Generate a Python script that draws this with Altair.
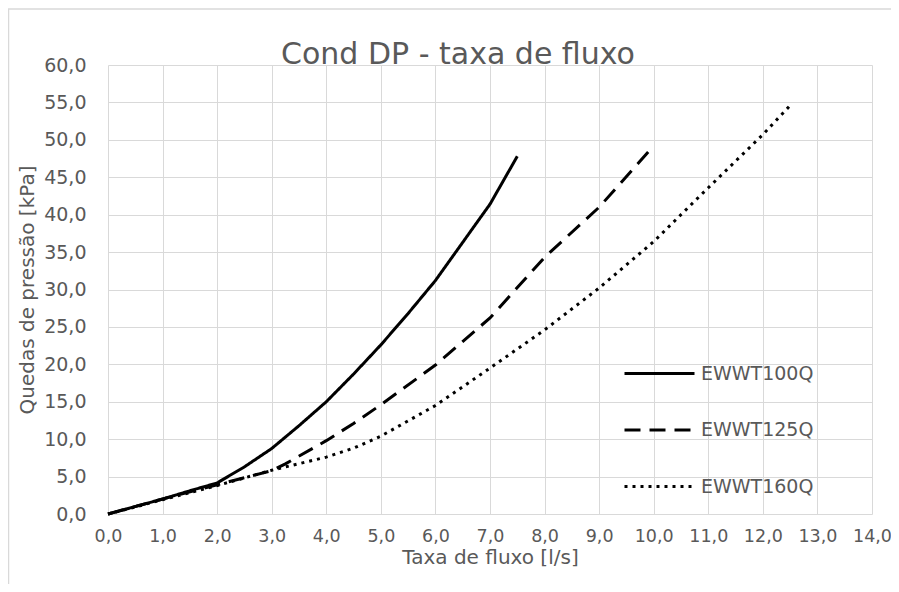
import altair as alt
import pandas as pd

names = ["EWWT100Q", "EWWT125Q", "EWWT160Q"]

x100 = [0, 0.5, 1, 1.5, 2, 2.5, 3, 3.5, 4, 4.5, 5, 5.5, 6, 6.5, 7, 7.5]
y100 = [0, 1.0, 2.0, 3.1, 4.15, 6.3, 8.75, 11.8, 15.0, 18.7, 22.6, 26.8, 31.2, 36.3, 41.4, 47.8]

x125 = [0, 1, 2, 3, 3.25, 4, 4.5, 5, 6, 7, 8, 9, 10]
y125 = [0, 2.0, 3.9, 5.8, 6.7, 9.8, 12.1, 14.6, 19.9, 26.2, 34.3, 41.0, 49.2]

x160 = [0, 1, 2, 3, 4, 4.5, 5, 6, 7, 8, 9, 10, 11, 12, 12.5]
y160 = [0, 1.9, 3.8, 5.85, 7.6, 8.8, 10.4, 14.5, 19.5, 24.6, 30.2, 36.4, 43.6, 50.7, 54.6]

x_ticks = list(range(0, 15))
y_ticks = list(range(0, 61, 5))

rows = []
for name, xs, ys in [(names[0], x100, y100), (names[1], x125, y125), (names[2], x160, y160)]:
    for a, b in zip(xs, ys):
        rows.append({"x": a, "y": b, "serie": name})
df = pd.DataFrame(rows)

FONT = "DejaVu Sans"
GRAY = "#595959"
GRID = "#d9d9d9"
label_expr = "replace(format(datum.value, '.1f'), '.', ',')"

lines = alt.Chart(df).mark_line(strokeWidth=3, color="black", strokeCap="butt").encode(
    x=alt.X("x:Q",
            scale=alt.Scale(domain=[0, 14], nice=False),
            axis=alt.Axis(values=x_ticks, labelExpr=label_expr, title="Taxa de fluxo [l/s]",
                          ticks=False, domain=False, labelPadding=13, titlePadding=3,
                          labelOverlap=False, labelFlush=False, labelFontSize=17.5)),
    y=alt.Y("y:Q",
            scale=alt.Scale(domain=[0, 60], nice=False),
            axis=alt.Axis(values=y_ticks, labelExpr=label_expr, title="Quedas de pressão [kPa]",
                          ticks=False, domain=False, labelPadding=22, titlePadding=6,
                          labelOverlap=False, labelFlush=False)),
    strokeDash=alt.StrokeDash("serie:N",
                              scale=alt.Scale(domain=names, range=[[1, 0], [16, 9], [3, 5]]),
                              legend=alt.Legend(title=None, orient="none", legendX=515, legendY=272,
                                                symbolType="stroke", symbolSize=4900,
                                                symbolStrokeWidth=3, symbolStrokeColor="black",
                                                labelFontSize=19, labelColor=GRAY, labelFont=FONT,
                                                rowPadding=9.5, labelOffset=5, padding=0)),
)

border = alt.Chart(pd.DataFrame({"a": [0]})).mark_rect(
    fillOpacity=0, stroke=GRID, strokeWidth=1.5
).encode(x=alt.value(-99.5), x2=alt.value(900), y=alt.value(-56), y2=alt.value(600))

chart = alt.layer(border, lines).properties(
    width=764,
    height=449,
    title=alt.TitleParams("Cond DP - taxa de fluxo", fontSize=30, font=FONT, fontWeight="normal",
                          color=GRAY, dx=-32, dy=86, offset=0, baseline="alphabetic", frame="group"),
    autosize=alt.AutoSizeParams(type="none"),
    padding={"left": 100, "top": 57, "right": 19, "bottom": 70},
).configure_axis(
    gridColor=GRID, gridWidth=1, labelFont=FONT, labelFontSize=19, labelColor=GRAY,
    titleFont=FONT, titleFontSize=20, titleColor=GRAY, titleFontWeight="normal",
).configure_view(stroke=None)

chart.save("out.html", embed_options={"renderer": "svg", "actions": False})
